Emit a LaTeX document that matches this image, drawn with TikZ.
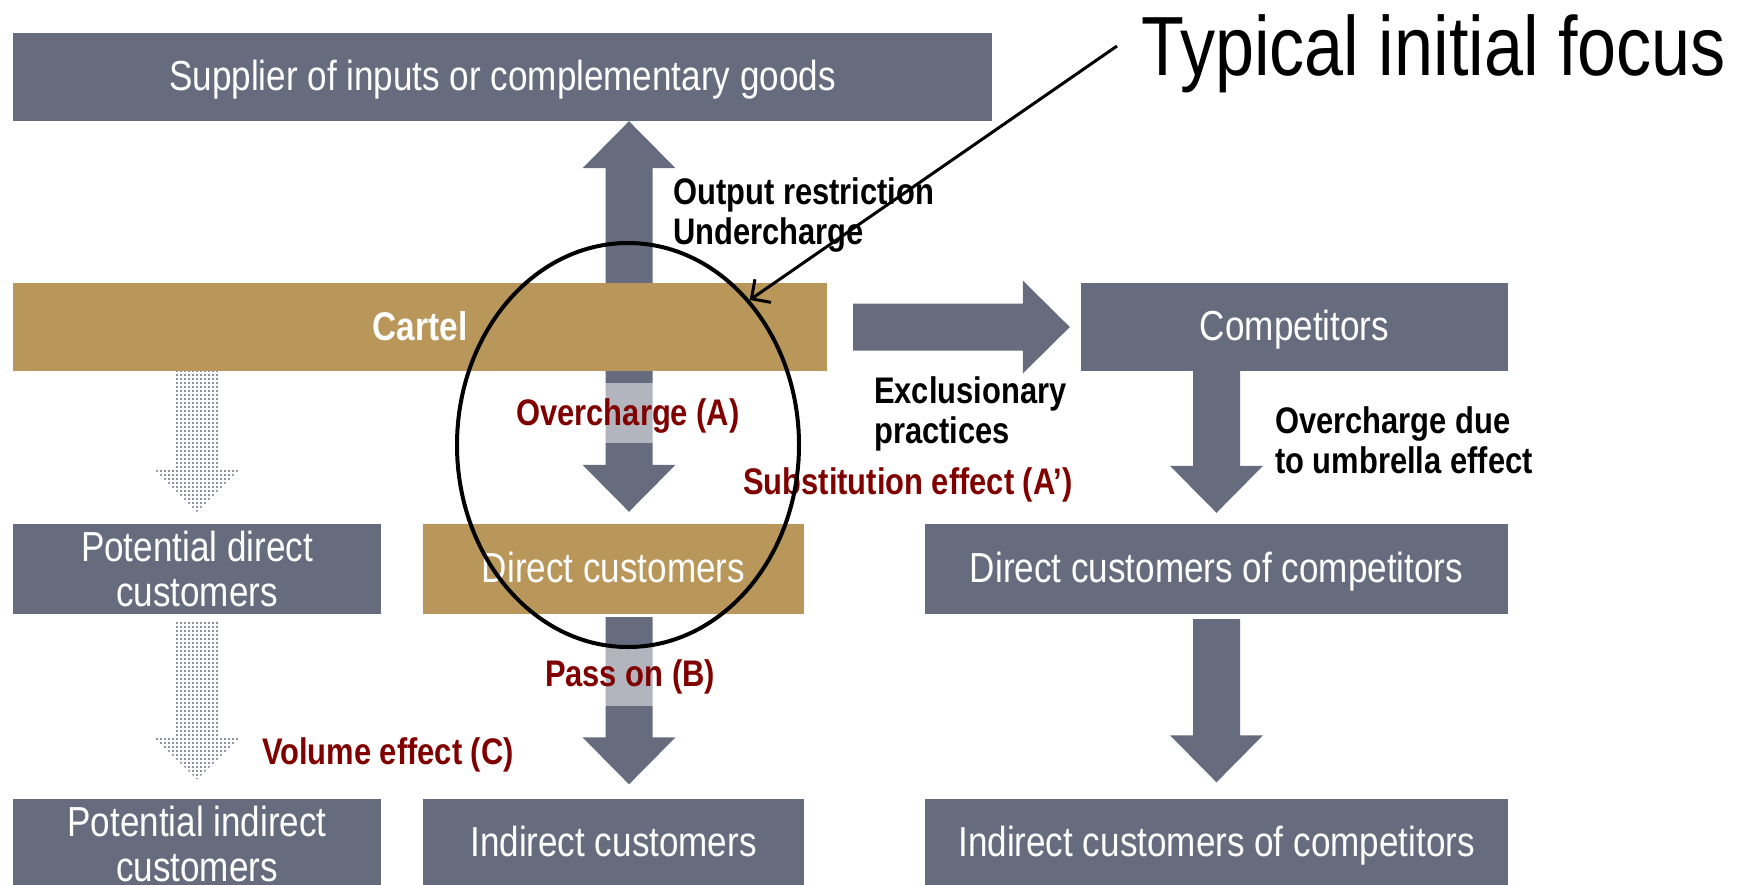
\documentclass[tikz,border=0pt]{standalone}
\usepackage{fontspec}
\setmainfont[FakeStretch=0.835]{Liberation Sans}
\usetikzlibrary{calc,shapes.geometric,patterns,arrows.meta}

\definecolor{slate}{RGB}{102,108,125}
\definecolor{gold}{RGB}{185,150,90}
\definecolor{effectred}{RGB}{128,0,0}

% Coarse dot screen for the potential flows
\pgfdeclarepatternformonly{coarsedots}{\pgfqpoint{-1pt}{-1pt}}{\pgfqpoint{3pt}{3pt}}%
  {\pgfqpoint{4pt}{4pt}}{\pgfpathcircle{\pgfqpoint{1pt}{1pt}}{1.1pt}\pgfusepath{fill}}

% Dimensions of the broad block arrows
\pgfkeys{/blockarrow/.cd,
  shaft/.store in=\baShaft, head/.store in=\baHead, tiplen/.store in=\baLen,
  shaft=23.5pt, head=46.5pt, tiplen=47pt}

% \blockarrow[dimensions]{fill style}{(from)}{(to)}
\newcommand\blockarrow[4][]{%
  \begin{scope}
    \pgfkeys{/blockarrow/.cd,#1}
    \path #3 coordinate (ba-a) #4 coordinate (ba-b);
    \path ($(ba-b)!\baLen!(ba-a)$) coordinate (ba-h);
    \path[#2] ($(ba-a)!\baShaft!90:(ba-b)$) -- ($(ba-h)!\baShaft!90:(ba-b)$)
      -- ($(ba-h)!\baHead!90:(ba-b)$) -- (ba-b)
      -- ($(ba-h)!\baHead!-90:(ba-b)$) -- ($(ba-h)!\baShaft!-90:(ba-b)$)
      -- ($(ba-a)!\baShaft!-90:(ba-b)$) -- cycle;
  \end{scope}}

\tikzset{
  box/.style={rectangle, fill=slate, text=white, inner sep=0pt, align=center,
    font=\fontsize{42}{45}\selectfont},
  oneline/.style={text height=26pt, text depth=0pt},
  cartelbox/.style={box, fill=gold},
  flow/.style={fill=slate},
  potential/.style={pattern=coarsedots, pattern color=slate},
  note/.style={inner sep=0pt, align=left, text=black,
    font=\bfseries\fontsize{37}{40}\selectfont},
  effect/.style={inner sep=0pt, text=effectred,
    font=\bfseries\fontsize{37}{40}\selectfont},
  veil/.style={effect, fill=white, fill opacity=0.5, text opacity=1,
    minimum height=60pt, text height=27pt, text depth=3pt},
  focusring/.style={ellipse, draw=black, line width=4pt, inner sep=0pt,
    minimum width=342pt, minimum height=404pt}
}

\begin{document}
\begin{tikzpicture}[x=1pt, y=-1pt]
  \useasboundingbox (0,0) rectangle (1742,884);

  % Market levels
  \node[box, oneline, minimum width=979pt, minimum height=88pt] (supplier) at (502.5,77)
    {Supplier of inputs or complementary goods};
  \node[cartelbox, oneline, minimum width=814pt, minimum height=88pt,
    font=\bfseries\fontsize{40}{45}\selectfont] (cartel) at (420,327) {Cartel};
  \node[box, oneline, minimum width=427pt, minimum height=88pt] (comp) at (1294.5,327)
    {Competitors};
  \node[box, minimum width=368pt, minimum height=90pt] (pd) at (197,569)
    {Potential direct\\customers};
  \node[cartelbox, oneline, minimum width=381pt, minimum height=90pt] (dc) at (613.5,569)
    {Direct customers};
  \node[box, oneline, minimum width=583pt, minimum height=90pt] (dcc) at (1216.5,569)
    {Direct customers of competitors};
  \node[box, minimum width=368pt, minimum height=90pt] (pi) at (197,843.5)
    {Potential indirect\\customers};
  \node[box, oneline, minimum width=381pt, minimum height=90pt] (ic) at (613.5,843.5)
    {Indirect customers};
  \node[box, oneline, minimum width=583pt, minimum height=90pt] (icc) at (1216.5,843.5)
    {Indirect customers of competitors};

  % Column of the cartel's vertical flows
  \coordinate (c1) at (629,0);

  % Flows between the levels
  \blockarrow{flow}{(cartel.north -| c1)}{(supplier.south -| c1)}
  \blockarrow{flow}{(cartel.south -| c1)}{($(dc.north -| c1)+(0,-12)$)}
  \blockarrow{flow}{($(dc.south -| c1)+(0,3)$)}{($(ic.north -| c1)+(0,-14)$)}
  \blockarrow{flow}{($(cartel.east)+(26,0)$)}{($(comp.west)+(-11,0)$)}
  \blockarrow{flow}{(comp.south -| dcc.south)}{($(dcc.north)+(0,-11)$)}
  \blockarrow{flow}{($(dcc.south)+(0,5)$)}{($(icc.north)+(0,-16)$)}
  \blockarrow[shaft=21.5pt, head=44pt, tiplen=44pt]{potential}
    {(cartel.south -| pd.north)}{($(pd.north)+(0,-12)$)}
  \blockarrow[shaft=21.5pt, head=44pt, tiplen=43pt]{potential}
    {($(pd.south)+(0,6)$)}{($(pi.north)+(0,-19)$)}

  % Labels of the flows
  \node[note, anchor=west] (outlbl) at (673,215) {Output restriction\\Undercharge};
  \node[note, anchor=west] (excl) at (874,414) {Exclusionary\\practices};
  \node[note, anchor=west] (umbrella) at (1275,440) {Overcharge due\\to umbrella effect};
  \node[veil] (overA) at (628,413) {Overcharge (A)};
  \node[veil, text depth=6pt] (passB) at (630,676) {Pass on (B)};
  \node[effect, anchor=west] (substA) at (743,485) {Substitution effect (A’)};
  \node[effect] (volC) at (388,755) {Volume effect (C)};

  % Highlight of the usual starting point
  \node[focusring] (ring) at (628,445) {};
  \node[inner sep=0pt, anchor=base west, font=\fontsize{84}{90}\selectfont]
    (focus) at (1141,75) {Typical initial focus};
  \coordinate (focustail) at (1117,46);
  \draw[line width=3pt, -{Straight Barb[length=14pt, width=28pt]}]
    (focustail) -- (ring.50);
\end{tikzpicture}
\end{document}
